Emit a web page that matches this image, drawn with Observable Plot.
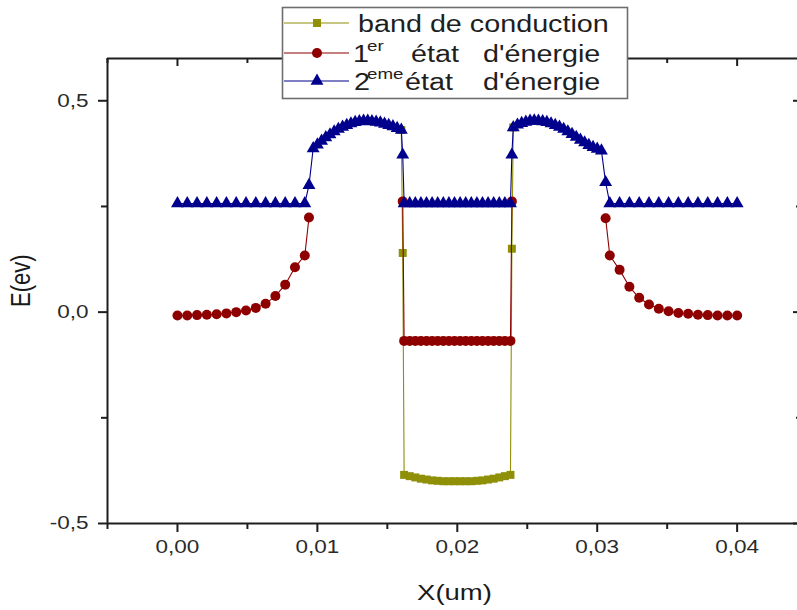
<!DOCTYPE html>
<html>
<head>
<meta charset="utf-8">
<script src="https://cdn.jsdelivr.net/npm/d3@7"></script>
<script src="https://cdn.jsdelivr.net/npm/@observablehq/plot@0.6"></script>
<style>
  html, body { margin: 0; padding: 0; background: #fff; overflow: hidden; }
  #chart { position: relative; width: 797px; height: 610px; }
  #chart svg { display: block; }
</style>
</head>
<body>
<div id="chart"></div>
<script>
// ---------- data ----------
const xs = [
  0, 0.0007, 0.0014, 0.0021, 0.0028, 0.0035, 0.0042, 0.0049, 0.0056, 0.0063, 0.0070, 0.0077, 0.0084, 0.0091,
  0.0094,
  0.0097, 0.0100, 0.0103, 0.0106, 0.0109, 0.0112, 0.0115, 0.0118, 0.0121, 0.0124, 0.0127, 0.0130, 0.0133, 0.0136, 0.0139, 0.0142, 0.0145, 0.0148, 0.0151, 0.0154, 0.0157, 0.0160,
  0.0161,
  0.0162, 0.0166, 0.0170, 0.0174, 0.0178, 0.0182, 0.0186, 0.0190, 0.0194, 0.0198, 0.0202, 0.0206, 0.0210, 0.0214, 0.0218, 0.0222, 0.0226, 0.0230, 0.0234, 0.0238,
  0.0239,
  0.0240, 0.0243, 0.0246, 0.0249, 0.0252, 0.0255, 0.0258, 0.0261, 0.0264, 0.0267, 0.0270, 0.0273, 0.0276, 0.0279, 0.0282, 0.0285, 0.0288, 0.0291, 0.0294, 0.0297, 0.0300, 0.0303,
  0.0306,
  0.0309, 0.0316, 0.0323, 0.0330, 0.0337, 0.0344, 0.0351, 0.0358, 0.0365, 0.0372, 0.0379, 0.0386, 0.0393, 0.0400
];

// band de conduction
const bandConduction = [
  null, null, null, null, null, null, null, null, null, null, null, null, null, null,
  null,
  null, null, null, null, null, null, null, null, null, null, null, null, null, null, null, null, null, null, null, null, null, 0.431,
  0.140,
  -0.385, -0.388, -0.391, -0.394, -0.396, -0.398, -0.399, -0.400, -0.400, -0.400, -0.400, -0.400, -0.400, -0.399, -0.398, -0.396, -0.394, -0.391, -0.388, -0.385,
  0.150,
  0.437, null, null, null, null, null, null, null, null, null, null, null, null, null, null, null, null, null, null, null, null, null,
  null,
  null, null, null, null, null, null, null, null, null, null, null, null, null, null
];

// 1er état d'énergie
const etat1 = [
  -0.008, -0.008, -0.007, -0.006, -0.005, -0.003, 0.000, 0.004, 0.010, 0.020, 0.038, 0.065, 0.106, 0.134,
  0.224,
  null, null, null, null, null, null, null, null, null, null, null, null, null, null, null, null, null, null, null, null, null, null,
  0.262,
  -0.068, -0.068, -0.068, -0.068, -0.068, -0.068, -0.068, -0.068, -0.068, -0.068, -0.068, -0.068, -0.068, -0.068, -0.068, -0.068, -0.068, -0.068, -0.068, -0.068,
  0.262,
  null, null, null, null, null, null, null, null, null, null, null, null, null, null, null, null, null, null, null, null, null, null,
  0.222,
  0.134, 0.100, 0.060, 0.034, 0.018, 0.008, 0.002, -0.002, -0.004, -0.006, -0.007, -0.008, -0.008, -0.008
];

// 2eme état d'énergie
const etat2 = [
  0.257, 0.257, 0.257, 0.257, 0.257, 0.257, 0.257, 0.257, 0.257, 0.257, 0.257, 0.257, 0.257, 0.257,
  0.300,
  0.387, 0.396, 0.405, 0.413, 0.420, 0.427, 0.433, 0.438, 0.442, 0.446, 0.449, 0.451, 0.452, 0.452, 0.451, 0.450, 0.448, 0.445, 0.442, 0.439, 0.435, 0.431,
  0.372,
  0.257, 0.257, 0.257, 0.257, 0.257, 0.257, 0.257, 0.257, 0.257, 0.257, 0.257, 0.257, 0.257, 0.257, 0.257, 0.257, 0.257, 0.257, 0.257, 0.257,
  0.372,
  0.437, 0.443, 0.447, 0.450, 0.452, 0.453, 0.452, 0.451, 0.449, 0.446, 0.442, 0.438, 0.433, 0.427, 0.421, 0.414, 0.407, 0.401, 0.395, 0.390, 0.386, 0.382,
  0.307,
  0.257, 0.257, 0.257, 0.257, 0.257, 0.257, 0.257, 0.257, 0.257, 0.257, 0.257, 0.257, 0.257, 0.257
];

const xMajorTicks = [0, 0.01, 0.02, 0.03, 0.04];
const xMinorTicks = [-0.005, 0.005, 0.015, 0.025, 0.035];
const yMajorTicks = [-0.5, 0, 0.5];
const yMinorTicks = [-0.25, 0.25];
const xDomain = [-0.005, 0.0446];
const yDomain = [-0.5, 0.6];

const seriesNames = ["band de conduction", "1er état d'énergie", "2eme état d'énergie"];
const seriesColors = ["#8f8f08", "#8e0000", "#00008c"];
const seriesSymbols = ["square", "circle", "triangle"];
const seriesR = [4.5, 5, 4.8];

// ---------- build ----------
const rows = xs.map((x, i) => ({x, band: bandConduction[i], e1: etat1[i], e2: etat2[i]}));
const keys = ["band", "e1", "e2"];

const fmtX = d => d3.format(".2f")(d).replace(".", ",");
const fmtY = d => d3.format(".1f")(d).replace(".", ",").replace("\u2212", "-");

const axisColor = "#1e1e1e";
const frameH = 610 - 58 - 87;
const frameW = 801 - 107;

const seriesMarks = keys.flatMap((k, i) => [
  Plot.line(rows, {x: "x", y: k, stroke: seriesColors[i], strokeWidth: 1.1}),
  Plot.dot(rows, {x: "x", y: k, symbol: seriesSymbols[i], r: seriesR[i], fill: seriesColors[i], stroke: "none"})
]);

const plot = Plot.plot({
  width: 797,
  height: 610,
  marginLeft: 107,
  marginRight: -4,
  marginTop: 58,
  marginBottom: 87,
  x: {domain: xDomain},
  y: {domain: yDomain},
  style: {fontFamily: "'Liberation Sans', Arial, sans-serif", fontSize: "18px", color: "#222", background: "#fff"},
  marks: [
    ...seriesMarks,
    // frame
    Plot.ruleY([yDomain[0]], {stroke: axisColor, strokeWidth: 2}),
    Plot.ruleY([yDomain[1]], {stroke: axisColor, strokeWidth: 2}),
    Plot.ruleX([xDomain[0]], {stroke: axisColor, strokeWidth: 2}),
    Plot.ruleX([xDomain[1]], {stroke: axisColor, strokeWidth: 2}),
    // inward ticks on top and right
    Plot.tickX(xMajorTicks, {x: d => d, insetBottom: frameH - 8, stroke: axisColor, strokeWidth: 2}),
    Plot.tickX(xMinorTicks, {x: d => d, insetBottom: frameH - 5, stroke: axisColor, strokeWidth: 2}),
    Plot.tickY(yMajorTicks, {y: d => d, insetLeft: frameW - 8, stroke: axisColor, strokeWidth: 2}),
    Plot.tickY(yMinorTicks, {y: d => d, insetLeft: frameW - 5, stroke: axisColor, strokeWidth: 2}),
    // axes
    Plot.axisX(xMajorTicks, {anchor: "bottom", tickSize: 9, tickPadding: 8, tickFormat: fmtX, strokeWidth: 2, stroke: axisColor, fill: "#2a2a2a", fontSize: 18, label: null}),
    Plot.axisX(xMinorTicks, {anchor: "bottom", tickSize: 6, tickFormat: () => "", strokeWidth: 2, stroke: axisColor, label: null}),
    Plot.axisY(yMajorTicks, {anchor: "left", tickSize: 9, tickPadding: 10, tickFormat: fmtY, strokeWidth: 2, stroke: axisColor, fill: "#2a2a2a", fontSize: 18, label: null}),
    Plot.axisY(yMinorTicks, {anchor: "left", tickSize: 6, tickFormat: () => "", strokeWidth: 2, stroke: axisColor, label: null}),
    // axis titles
    Plot.text(["X(um)"], {frameAnchor: "bottom", dy: 69, text: d => d, fontSize: 22, lineAnchor: "middle", fill: "#1a1a1a"}),
    Plot.text(["E(ev)"], {frameAnchor: "left", dx: -86, dy: 16, rotate: -90, text: d => d, fontSize: 22, lineAnchor: "middle", fill: "#1a1a1a"})
  ]
});

const wrap = d3.select("#chart");
wrap.node().append(plot);

// stretch text horizontally like the reference picture (about each text's own anchor)
plot.querySelectorAll("text").forEach(t => {
  const content = t.textContent;
  if (!content) return;
  let bb;
  try { bb = t.getBBox(); } catch (e) { return; }
  const tr = t.getAttribute("transform") || "";
  const rot = /rotate/.test(tr);
  const cs = getComputedStyle(t);
  const anchor = t.getAttribute("text-anchor") || cs.textAnchor || "start";
  let cx, cy = bb.y + bb.height / 2;
  if (rot) {
    cx = bb.x + bb.width / 2;
    t.setAttribute("transform", `${tr} translate(${cx},${cy}) scale(1,1.22) translate(${-cx},${-cy})`);
  } else {
    cx = anchor === "middle" ? bb.x + bb.width / 2 : anchor === "end" ? bb.x + bb.width : bb.x;
    t.setAttribute("transform", `${tr} translate(${cx},${cy}) scale(1.25,1) translate(${-cx},${-cy})`);
  }
});

// ---------- legend (overlay box) ----------
const leg = wrap.append("svg")
  .attr("width", 797).attr("height", 610)
  .style("position", "absolute").style("left", "0px").style("top", "0px")
  .style("pointer-events", "none")
  .style("font-family", "'Liberation Sans', Arial, sans-serif");

leg.append("rect").attr("x", 282.5).attr("y", 7.5).attr("width", 345).attr("height", 91)
  .attr("fill", "#fff").attr("stroke", "#6e6e6e").attr("stroke-width", 1.6);

const rowY = [23, 53, 81];
const baseY = [32, 62, 90];
const symbolMap = {square: d3.symbolSquare, circle: d3.symbolCircle, triangle: d3.symbolTriangle};
seriesNames.forEach((name, i) => {
  leg.append("line").attr("x1", 284).attr("x2", 349).attr("y1", rowY[i]).attr("y2", rowY[i])
    .attr("stroke", seriesColors[i]).attr("stroke-width", 1.1);
  leg.append("path")
    .attr("d", d3.symbol(symbolMap[seriesSymbols[i]], Math.PI * seriesR[i] * seriesR[i])())
    .attr("transform", `translate(317,${rowY[i]})`)
    .attr("fill", seriesColors[i]);
});

function legText(str, x, y, size) {
  leg.append("text").attr("transform", `translate(${x},${y}) scale(1.25,1)`)
    .attr("font-size", size).attr("fill", "#1e1e1e").text(str);
}
// row 1
legText("band de conduction", 358, baseY[0], 23);
// row 2 : 1^er état d'énergie
legText("1", 353, baseY[1], 23);
legText("er", 367, baseY[1] - 11, 15);
legText("état", 411, baseY[1], 23);
legText("d'énergie", 483, baseY[1], 23);
// row 3 : 2^eme état d'énergie
legText("2", 354, baseY[2], 23);
legText("eme", 367, baseY[2] - 11, 15);
legText("état", 405, baseY[2], 23);
legText("d'énergie", 483, baseY[2], 23);
</script>
</body>
</html>
